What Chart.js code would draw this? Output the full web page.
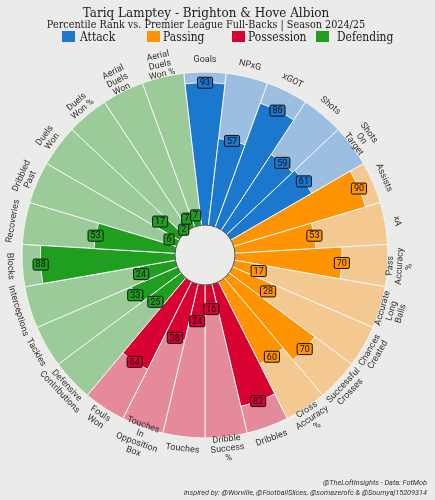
<!DOCTYPE html>
<html><head><meta charset="utf-8">
<script src="https://cdn.jsdelivr.net/npm/chart.js@4.4.1/dist/chart.umd.min.js"></script>
<style>
html,body{margin:0;padding:0;background:#EBEBE9;width:435px;height:500px;overflow:hidden}
#wrap{position:relative;width:435px;height:500px}
#c{position:absolute;left:0;top:0;width:435px;height:500px}
.t{position:absolute;left:0;width:412px;text-align:center;color:#1a1a1a;font-family:"DejaVu Serif",serif;white-space:nowrap;transform-origin:50% 0}
#title{top:4px;font-size:13.5px;line-height:16px;transform:scaleX(0.89)}
#sub{top:18px;font-size:10.5px;line-height:12px;transform:scaleX(0.92)}
.lg{position:absolute;top:30px;height:13px;font-family:"DejaVu Serif",serif;font-size:12.5px;line-height:13px;color:#1a1a1a;white-space:nowrap}
.lg i{position:absolute;left:0;top:1px;width:13px;height:11px}
.lg span{position:absolute;top:0;transform:scaleX(0.86);transform-origin:0 0}
.ft{position:absolute;right:8px;font-family:Roboto,sans-serif;font-style:italic;font-size:7.3px;line-height:9px;color:#333;white-space:nowrap}
</style></head>
<body><div id="wrap">
<canvas id="c" width="435" height="500"></canvas>
<div class="t" id="title">Tariq Lamptey - Brighton &amp; Hove Albion</div>
<div class="t" id="sub">Percentile Rank vs. Premier League Full-Backs | Season 2024/25</div>
<div class="lg" style="left:62px"><i style="background:#1A78CF"></i><span style="left:18px">Attack</span></div>
<div class="lg" style="left:147px"><i style="background:#FF9300"></i><span style="left:16px">Passing</span></div>
<div class="lg" style="left:232px"><i style="background:#D70232"></i><span style="left:16px">Possession</span></div>
<div class="lg" style="left:316px"><i style="background:#1F9E20"></i><span style="left:21px">Defending</span></div>
<div class="ft" style="top:478px">@TheLoftInsights - Data: FotMob</div>
<div class="ft" style="top:488px">inspired by: @Worville, @FootballSlices, @somazerofc &amp; @Soumyaj15209314</div>
</div>
<script>
const categories = [
  "Goals","NPxG","xGOT","Shots",["Shots","On","Target"],
  "Assists","xA",["Pass","Accuracy","%"],["Accurate","Long","Balls"],["Chances","Created"],["Successful","Crosses"],["Cross","Accuracy","%"],
  "Dribbles",["Dribble","Success","%"],"Touches",["Touches","In","Opposition","Box"],["Fouls","Won"],
  ["Defensive","Contributions"],"Tackles","Interceptions","Blocks","Recoveries",["Dribbled","Past"],["Duels","Won"],["Duels","Won %"],["Aerial","Duels","Won"],["Aerial","Duels","Won %"]
];
const attackValues = [93,57,86,59,61];
const passingValues = [90,53,70,17,28,70,60];
const possessionValues = [82,16,24,38,64];
const defendingValues = [25,33,24,88,53,6,17,2,7,7];
const groupNames = ["Attack","Passing","Possession","Defending"];
const darkColors = ["#1A78CF","#FF9300","#D70232","#1F9E20"];
const lightColors = ["#9CBFE1","#F4C991","#E48A9B","#9BCB99"];
const BG = "#EBEBE9";

const groupValues = [attackValues, passingValues, possessionValues, defendingValues];
const values = [], dark = [], light = [], full = [];
groupValues.forEach((g, gi) => g.forEach(v => { values.push(v); dark.push(darkColors[gi]); light.push(lightColors[gi]); full.push(100); }));

const labelPlugin = {
  id: 'pizzaLabels',
  afterDatasetsDraw(chart) {
    const ctx = chart.ctx, s = chart.scales.r;
    const cx = s.xCenter, cy = s.yCenter, n = categories.length, half = Math.PI / n;
    const r0 = s.getDistanceFromCenterForValue(0);
    ctx.save();
    ctx.beginPath(); ctx.arc(cx, cy, r0, 0, Math.PI * 2);
    ctx.fillStyle = BG; ctx.fill(); ctx.lineWidth = 1; ctx.strokeStyle = '#555'; ctx.stroke();
    ctx.textAlign = 'center'; ctx.textBaseline = 'middle';
    ctx.font = '9px Roboto';
    for (let i = 0; i < n; i++) {
      const a = s.getIndexAngle(i) + half;
      const r = s.getDistanceFromCenterForValue(values[i]);
      const x = cx + r * Math.sin(a), y = cy - r * Math.cos(a);
      const t = String(values[i]);
      const w = ctx.measureText(t).width + 5, h = 11;
      ctx.beginPath();
      ctx.roundRect(x - w / 2, y - h / 2, w, h, 1.5);
      ctx.fillStyle = dark[i]; ctx.fill();
      ctx.lineWidth = 1; ctx.strokeStyle = '#111'; ctx.stroke();
      ctx.fillStyle = '#111'; ctx.fillText(t, x, y + 0.5);
    }
    ctx.font = '9px Roboto'; ctx.fillStyle = '#333';
    const R = s.drawingArea + 12, lh = 9.5;
    for (let i = 0; i < n; i++) {
      const a = s.getIndexAngle(i) + half;
      let deg = ((a * 180 / Math.PI) % 360 + 360) % 360;
      let rot = (deg > 90 && deg < 270) ? deg - 180 : (deg >= 270 ? deg - 360 : deg);
      const x = cx + R * Math.sin(a), y = cy - R * Math.cos(a);
      const lines = Array.isArray(categories[i]) ? categories[i] : [categories[i]];
      ctx.save(); ctx.translate(x, y); ctx.rotate(rot * Math.PI / 180);
      lines.forEach((ln, k) => ctx.fillText(ln, 0, (k - (lines.length - 1) / 2) * lh));
      ctx.restore();
    }
    ctx.restore();
  }
};

new Chart(document.getElementById('c'), {
  type: 'polarArea',
  data: {
    labels: categories,
    datasets: [
      { data: values, backgroundColor: dark, borderColor: '#F4F4F4', borderWidth: 1 },
      { data: full, backgroundColor: light, borderColor: '#F4F4F4', borderWidth: 1 }
    ]
  },
  options: {
    responsive: false, animation: false, events: [],
    layout: { padding: { left: 22, right: 47, top: 72, bottom: 62 } },
    plugins: { legend: { display: false }, tooltip: { enabled: false } },
    scales: { r: { min: -19.6, max: 100, startAngle: -180 / 27,
      ticks: { display: false }, grid: { display: false }, angleLines: { display: false }, pointLabels: { display: false } } }
  },
  plugins: [labelPlugin]
});
</script>
</body></html>
